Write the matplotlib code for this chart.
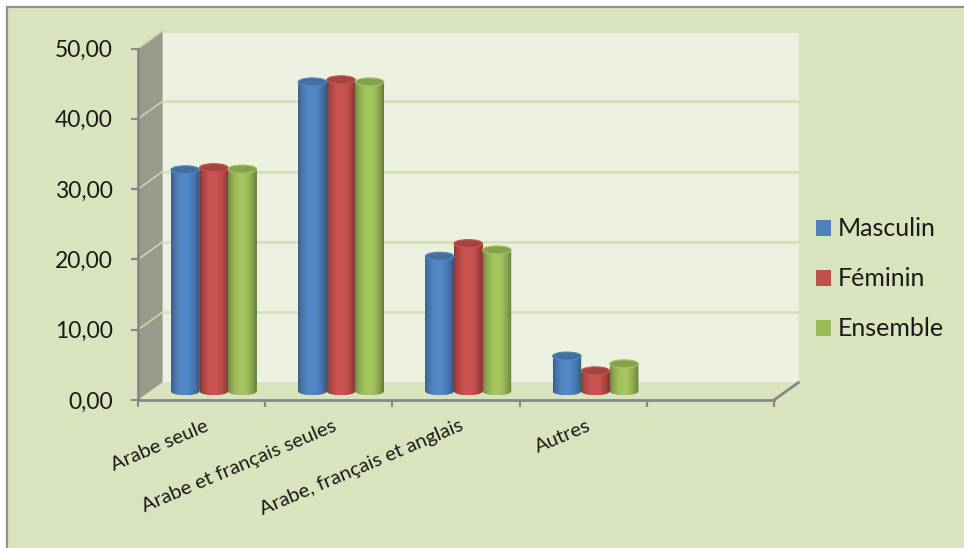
import numpy as np
import matplotlib
matplotlib.use("Agg")
import matplotlib.pyplot as plt
from matplotlib.patches import Rectangle, Polygon, Ellipse, PathPatch, Patch
from matplotlib.path import Path
from matplotlib.transforms import ScaledTranslation, IdentityTransform
import matplotlib.colors as mcolors

# ---- data -------------------------------------------------------------
categories = ["Arabe seule", "Arabe et français seules",
              "Arabe, français et anglais", "Autres"]
series_names = ["Masculin", "Féminin", "Ensemble"]
masculin = [31.5, 44.0, 19.2, 5.0]
feminin = [31.8, 44.3, 21.0, 2.9]
ensemble = [31.6, 44.0, 20.1, 3.9]
y_ticks = [0, 10, 20, 30, 40, 50]
y_tick_labels = ["0,00", "10,00", "20,00", "30,00", "40,00", "50,00"]
colors = ["#4f81bd", "#c0504d", "#9bbb59"]

# ---- figure -----------------------------------------------------------
W, H, DPI = 964, 548, 100
plt.rcParams["font.family"] = ["Lato", "DejaVu Sans"]
fig = plt.figure(figsize=(W / DPI, H / DPI), dpi=DPI)
fig.patch.set_facecolor("white")

BG = "#d7e4bd"
fig.patches.append(Rectangle((7 / W, -0.05), 1.2, (H - 7) / H + 0.05,
                             transform=fig.transFigure, facecolor=BG,
                             edgecolor="#8f8f8f", linewidth=1.6, zorder=-10))

n_slots = 5  # four categories plus an empty slot on the right
ax = fig.add_axes([138 / W, 148 / H, 636 / W, 351.5 / H])
ax.set_xlim(0, n_slots)
ax.set_ylim(0, 50)
ax.patch.set_visible(False)

# depth of the 3-D box in pixels
DX, DY = 24.5, 17.5
T_back = ax.transData + ScaledTranslation(DX / DPI, DY / DPI, fig.dpi_scale_trans)
T_mid = ax.transData + ScaledTranslation(DX / 2 / DPI, DY / 2 / DPI, fig.dpi_scale_trans)


def disp(x, y, d):
    p = ax.transData.transform((x, y))
    return p + d * np.array([DX, DY])


# back wall
ax.add_patch(Rectangle((0, 0), n_slots, 50, transform=T_back,
                       facecolor="#ebf1de", edgecolor="none", zorder=0.5,
                       clip_on=False))
for v in y_ticks:
    ax.plot([0, n_slots], [v, v], transform=T_back, color="#d3e1b7",
            lw=2.0, zorder=0.6, clip_on=False, solid_capstyle="butt")

# side wall
ident = IdentityTransform()
side = [disp(0, 0, 0), disp(0, 50, 0), disp(0, 50, 1), disp(0, 0, 1)]
ax.add_patch(Polygon(side, closed=True, transform=ident, facecolor="#979b89",
                     edgecolor="none", zorder=0.7, clip_on=False))
for v in y_ticks[1:]:
    a, b = disp(0, v, 0), disp(0, v, 1)
    ax.plot([a[0], b[0]], [a[1], b[1]], transform=ident, color="#c9d5b1",
            lw=1.2, zorder=0.8, clip_on=False)

# floor and its right edge
floor = [disp(0, 0, 0), disp(n_slots, 0, 0), disp(n_slots, 0, 1), disp(0, 0, 1)]
ax.add_patch(Polygon(floor, closed=True, transform=ident, facecolor=BG,
                     edgecolor="none", zorder=0.7, clip_on=False))
a, b = disp(n_slots, 0, 0), disp(n_slots, 0, 1)
ax.plot([a[0], b[0]], [a[1], b[1]], transform=ident, color="#878787",
        lw=2.0, zorder=0.9, clip_on=False)

# ---- cylinders ----------------------------------------------------------
bw = 0.225
eh = 1.15  # ellipse height in value units
u = np.linspace(0, 1, 64)
shade = 0.70 + 0.40 * np.clip(np.sin(np.pi * u) ** 0.7, 0, 1)
shade = shade - 0.08 * u


def shaded(color, f):
    rgb = np.array(mcolors.to_rgb(color))
    return np.clip(rgb * f, 0, 1)


for i, (vals, col) in enumerate(zip([masculin, feminin, ensemble], colors)):
    xs = np.arange(len(categories)) + 0.5 + (i - 1) * bw
    bars = ax.bar(xs, vals, width=bw, transform=T_mid, color=col,
                  linewidth=0, zorder=3, clip_on=False)
    grad = np.array([[shaded(col, f) for f in shade]])
    for rect in bars:
        x0 = rect.get_x()
        x1 = x0 + rect.get_width()
        h = rect.get_height()
        xc = (x0 + x1) / 2
        t = np.linspace(np.pi, 2 * np.pi, 40)
        arc = np.column_stack([xc + (bw / 2) * np.cos(t), (eh / 2) * np.sin(t)])
        verts = np.vstack([[x0, h], [x0, 0], arc, [x1, h], [x0, h]])
        codes = [Path.MOVETO] + [Path.LINETO] * (len(verts) - 2) + [Path.CLOSEPOLY]
        body = PathPatch(Path(verts, codes), transform=T_mid,
                         facecolor="none", edgecolor="none")
        im = ax.imshow(grad, extent=(x0, x1, -eh / 2, h), transform=T_mid,
                       aspect="auto", interpolation="bilinear", zorder=3.1)
        im.set_clip_path(body)
        ax.add_patch(Ellipse((xc, h), bw, eh, transform=T_mid,
                             facecolor=shaded(col, 0.86),
                             edgecolor=shaded(col, 1.05), linewidth=0.8,
                             zorder=3.2, clip_on=False))

ax.set_xlim(0, n_slots)
ax.set_ylim(0, 50)
ax.set_aspect("auto")

# ---- axes ---------------------------------------------------------------
for s in ["top", "right"]:
    ax.spines[s].set_visible(False)
for s in ["left", "bottom"]:
    ax.spines[s].set_color("#878787")
    ax.spines[s].set_linewidth(2.0)
    ax.spines[s].set_zorder(1)

ax.set_yticks(y_ticks)
ax.set_yticklabels(y_tick_labels)
ax.tick_params(axis="y", direction="out", length=5, width=1.5,
               color="#878787", pad=13, labelsize=16.5, labelcolor="#1a1a1a")
ax.set_xticks(np.arange(n_slots + 1))
ax.set_xticklabels([])
ax.tick_params(axis="x", direction="out", length=5, width=1.5, color="#878787")

lab_tr = ax.get_xaxis_transform() + ScaledTranslation(3 / DPI, -17 / DPI,
                                                       fig.dpi_scale_trans)
for k, name in enumerate(categories):
    ax.text(k + 0.5, 0, name, transform=lab_tr, rotation=23,
            rotation_mode="anchor", ha="right", va="top",
            fontsize=14.5, color="#1a1a1a")

# ---- legend -------------------------------------------------------------
handles = [Patch(facecolor=c, edgecolor="none") for c in colors]
fig.legend(handles, series_names, loc="center left",
           bbox_to_anchor=(793 / W, 1 - 279 / H), frameon=False,
           fontsize=18, handlelength=0.6, handleheight=0.6,
           handletextpad=0.3, labelspacing=1.08, labelcolor="#1a1a1a")

fig.savefig("out.png", dpi=DPI, facecolor=fig.get_facecolor())
